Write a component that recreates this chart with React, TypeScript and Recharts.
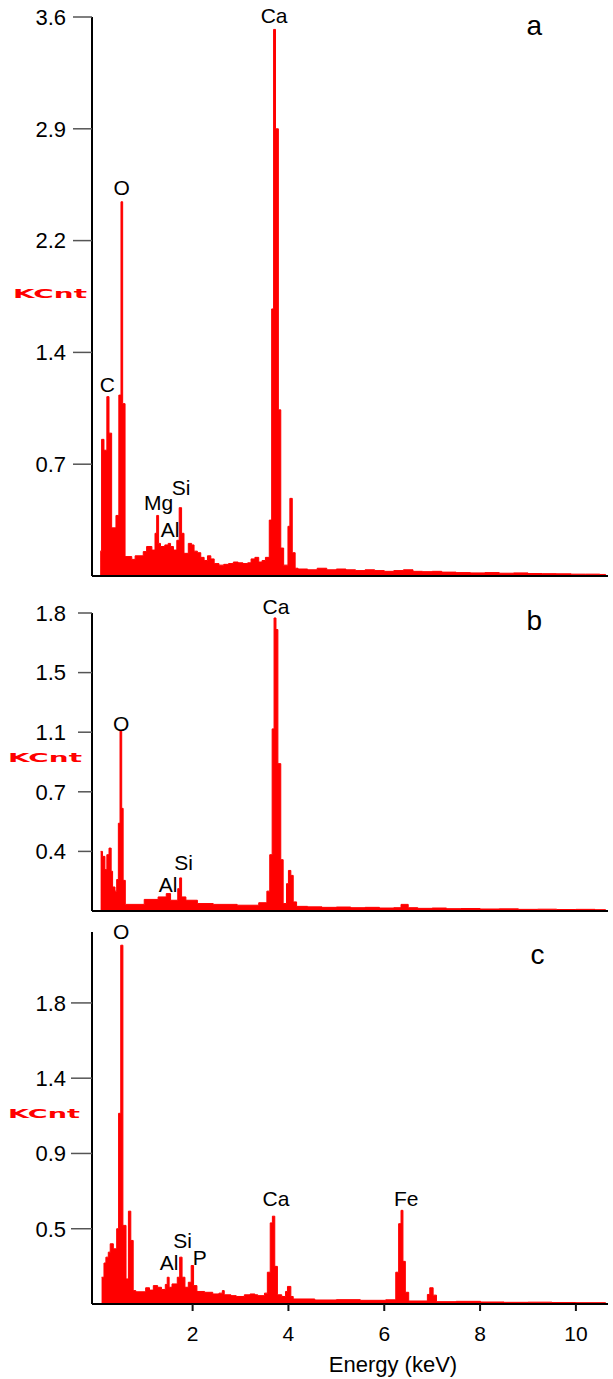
import React from 'react';
import { AreaChart, Area, XAxis, YAxis, ReferenceDot } from 'recharts';

const FONT = "Arial, 'Liberation Sans', Helvetica, sans-serif";

// Energy axis ticks (keV)
const energyTicks = [2, 4, 6, 8, 10];

// Panel a spectrum (energy keV, counts KCnt)
const aEnergy = [0.07, 0.10, 0.15, 0.21, 0.255, 0.31, 0.40, 0.46, 0.505, 0.54,
  0.59, 0.73, 0.80, 0.97, 1.04, 1.15, 1.215, 1.25, 1.29, 1.33,
  1.42, 1.49, 1.54, 1.60, 1.67, 1.72, 1.77, 1.82, 1.91, 1.98,
  2.03, 2.10, 2.17, 2.24, 2.31, 2.38, 2.45, 2.55, 2.65, 2.75,
  2.85, 2.95, 3.05, 3.15, 3.22, 3.30, 3.38, 3.45, 3.52, 3.60,
  3.65, 3.69, 3.73, 3.79, 3.84, 3.90, 3.99, 4.03, 4.08, 4.14,
  4.2, 4.4, 4.6, 4.8, 5.0, 5.2, 5.4, 5.6, 5.8, 6.0,
  6.2, 6.4, 6.6, 6.8, 7.0, 7.2, 7.5, 7.8, 8.1, 8.4,
  8.7, 9.0, 9.3, 9.6, 9.9, 10.2, 10.5, 10.62];
const aCounts = [0.16, 0.88, 0.81, 1.155, 0.92, 0.31, 0.39, 1.165, 2.41, 1.11,
  0.125, 0.107, 0.13, 0.157, 0.19, 0.167, 0.275, 0.39, 0.21, 0.19,
  0.20, 0.21, 0.19, 0.167, 0.23, 0.44, 0.275, 0.146, 0.21, 0.20,
  0.16, 0.15, 0.12, 0.10, 0.13, 0.11, 0.08, 0.07, 0.075, 0.08,
  0.09, 0.085, 0.08, 0.085, 0.11, 0.12, 0.09, 0.10, 0.12, 0.36,
  1.72, 3.52, 2.88, 1.07, 0.18, 0.07, 0.32, 0.50, 0.15, 0.05,
  0.045, 0.04, 0.05, 0.04, 0.045, 0.04, 0.035, 0.04, 0.035, 0.03,
  0.035, 0.04, 0.03, 0.028, 0.03, 0.025, 0.022, 0.02, 0.022, 0.018,
  0.02, 0.016, 0.015, 0.014, 0.012, 0.012, 0.01, 0];

// Panel b spectrum
const bEnergy = [0.08, 0.12, 0.17, 0.21, 0.255, 0.30, 0.33, 0.38, 0.415, 0.45,
  0.485, 0.52, 0.55, 0.595, 0.99, 1.28, 1.45, 1.54, 1.69, 1.73,
  1.77, 1.86, 2.10, 2.43, 2.93, 3.38, 3.55, 3.61, 3.66, 3.70,
  3.74, 3.78, 3.84, 3.89, 3.96, 4.00, 4.05, 4.10, 4.17, 4.4,
  4.7, 5.0, 5.3, 5.6, 5.9, 6.2, 6.35, 6.5, 6.7, 7.0,
  7.3, 7.6, 8.0, 8.4, 8.8, 9.2, 9.6, 10.0, 10.4, 10.62];
const bCounts = [0.36, 0.33, 0.25, 0.34, 0.38, 0.24, 0.145, 0.12, 0.19, 0.53,
  1.09, 0.62, 0.185, 0.04, 0.07, 0.085, 0.105, 0.065, 0.135, 0.20,
  0.085, 0.065, 0.045, 0.04, 0.035, 0.05, 0.12, 0.34, 1.10, 1.77,
  1.70, 0.89, 0.31, 0.045, 0.165, 0.245, 0.215, 0.055, 0.028, 0.025,
  0.022, 0.024, 0.02, 0.022, 0.018, 0.02, 0.04, 0.02, 0.016, 0.018,
  0.014, 0.015, 0.012, 0.013, 0.01, 0.011, 0.009, 0.01, 0.008, 0];

// Panel c spectrum
const cEnergy = [0.10, 0.15, 0.19, 0.24, 0.28, 0.345, 0.415, 0.455, 0.50, 0.545,
  0.61, 0.66, 0.71, 0.76, 0.815, 1.02, 1.10, 1.18, 1.27, 1.35,
  1.43, 1.47, 1.51, 1.57, 1.68, 1.73, 1.78, 1.84, 1.91, 1.97,
  2.02, 2.09, 2.25, 2.42, 2.55, 2.62, 2.66, 2.80, 2.91, 3.08,
  3.20, 3.30, 3.36, 3.50, 3.56, 3.62, 3.665, 3.715, 3.77, 3.86,
  3.94, 3.98, 4.05, 4.10, 4.55, 5.0, 5.5, 6.03, 6.24, 6.30,
  6.35, 6.39, 6.44, 6.51, 6.90, 6.95, 7.02, 7.09, 7.5, 8.01,
  8.5, 9.0, 9.5, 10.0, 10.62];
const cCounts = [0.16, 0.245, 0.28, 0.31, 0.36, 0.33, 0.45, 1.14, 2.145, 0.47,
  0.15, 0.555, 0.38, 0.08, 0.073, 0.097, 0.083, 0.11, 0.10, 0.087,
  0.117, 0.16, 0.10, 0.12, 0.16, 0.28, 0.16, 0.10, 0.13, 0.23,
  0.11, 0.075, 0.07, 0.06, 0.065, 0.08, 0.055, 0.05, 0.045, 0.055,
  0.06, 0.055, 0.05, 0.065, 0.19, 0.485, 0.525, 0.225, 0.055, 0.045,
  0.075, 0.105, 0.045, 0.03, 0.024, 0.026, 0.022, 0.025, 0.19, 0.48,
  0.56, 0.255, 0.07, 0.018, 0.057, 0.097, 0.053, 0.014, 0.016, 0.012,
  0.01, 0.011, 0.009, 0.008, 0];

// Y axis ticks and labels
const aTickValues = [0.72, 1.44, 2.16, 2.88, 3.6];
const aTickLabels = ['0.7', '1.4', '2.2', '2.9', '3.6'];
const bTickValues = [0.36, 0.72, 1.08, 1.44, 1.8];
const bTickLabels = ['0.4', '0.7', '1.1', '1.5', '1.8'];
const cTickValues = [0.45, 0.9, 1.35, 1.8];
const cTickLabels = ['0.5', '0.9', '1.4', '1.8'];

// Peak annotations: name, energy, height of label centre
const aPeakNames = ['C', 'O', 'Ca', 'Mg', 'Al', 'Si'];
const aPeakEnergy = [0.22, 0.52, 3.70, 1.29, 1.53, 1.76];
const aPeakLevel = [1.234, 2.50, 3.61, 0.47, 0.30, 0.57];
const bPeakNames = ['O', 'Ca', 'Al', 'Si'];
const bPeakEnergy = [0.51, 3.74, 1.49, 1.81];
const bPeakLevel = [1.13, 1.84, 0.157, 0.29];
const cPeakNames = ['O', 'Ca', 'Fe', 'Al', 'Si', 'P'];
const cPeakEnergy = [0.51, 3.74, 6.46, 1.51, 1.79, 2.15];
const cPeakLevel = [2.224, 0.628, 0.632, 0.25, 0.38, 0.28];

// Panel letters
const panelLetters = ['a', 'b', 'c'];
const letterEnergy = [9.13, 9.13, 9.2];
const letterLevel = [3.545, 1.76, 2.095];

const zip = (es: number[], vs: number[]) => es.map((e, i) => ({ e, v: vs[i] }));

type PanelProps = {
  top: number;
  height: number;
  marginTop: number;
  xAxisHeight: number;
  data: { e: number; v: number }[];
  yMax: number;
  yTicks: number[];
  yLabels: string[];
  tickSize: number;
  tickMargin: number;
  names: string[];
  energies: number[];
  levels: number[];
  letter: string;
  letterE: number;
  letterV: number;
  kcntX: number;
  kcntY: number;
  kcntLen: number;
  showX: boolean;
};

function Panel(p: PanelProps) {
  const kcnt = () => (
    <text
      x={p.kcntX}
      y={p.kcntY}
      textAnchor="middle"
      dominantBaseline="central"
      fill="#ff0000"
      fontSize={13}
      fontWeight="bold"
      fontFamily="'DejaVu Sans', Verdana, sans-serif"
      textLength={p.kcntLen}
      lengthAdjust="spacingAndGlyphs"
    >
      KCnt
    </text>
  );
  const energyLabel = () => (
    <text x={393} y={462} textAnchor="middle" fill="#000" fontSize={22} fontFamily={FONT}>
      Energy (keV)
    </text>
  );
  return (
    <div style={{ position: 'absolute', left: 0, top: p.top }}>
      <AreaChart
        width={613}
        height={p.height}
        data={p.data}
        margin={{ top: p.marginTop, right: 5, bottom: 0, left: 0 }}
      >
        <XAxis
          dataKey="e"
          type="number"
          domain={[-0.1, 10.67]}
          allowDataOverflow
          ticks={energyTicks}
          height={p.xAxisHeight}
          axisLine={{ stroke: '#000', strokeWidth: 2 }}
          tickLine={{ stroke: '#111', strokeWidth: 2 }}
          tickSize={7}
          tickMargin={15}
          tick={p.showX ? { fill: '#000', fontSize: 21, fontFamily: FONT } : false}
          label={p.showX ? { content: energyLabel } : undefined}
        />
        <YAxis
          type="number"
          domain={[0, p.yMax]}
          allowDataOverflow
          ticks={p.yTicks}
          width={92}
          axisLine={{ stroke: '#000', strokeWidth: 2 }}
          tickLine={{ stroke: '#555', strokeWidth: 1.5 }}
          tickSize={p.tickSize}
          tickMargin={p.tickMargin}
          tick={{ fill: '#000', fontSize: 22, fontFamily: FONT }}
          tickFormatter={(v: number) => {
            let best = 0;
            p.yTicks.forEach((t, i) => {
              if (Math.abs(t - v) < Math.abs(p.yTicks[best] - v)) best = i;
            });
            return p.yLabels[best];
          }}
          label={{ content: kcnt }}
        />
        <Area
          type="stepAfter"
          dataKey="v"
          stroke="#ff0000"
          strokeWidth={1}
          fill="#ff0000"
          fillOpacity={1}
          dot={false}
          activeDot={false}
          isAnimationActive={false}
        />
        {p.names.map((n, i) => (
          <ReferenceDot
            key={n + i}
            x={p.energies[i]}
            y={p.levels[i]}
            r={1}
            fill="none"
            stroke="none"
            ifOverflow="visible"
            label={{ value: n, position: 'center', fill: '#000', fontSize: 21, fontFamily: FONT }}
          />
        ))}
        <ReferenceDot
          x={p.letterE}
          y={p.letterV}
          r={1}
          fill="none"
          stroke="none"
          ifOverflow="visible"
          label={{ value: p.letter, position: 'center', fill: '#000', fontSize: 28, fontFamily: FONT }}
        />
      </AreaChart>
    </div>
  );
}

export default function App() {
  return (
    <div style={{ position: 'absolute', left: 0, top: 0, width: 613, height: 1379, background: '#fff' }}>
      <Panel
        top={0}
        height={586}
        marginTop={17}
        xAxisHeight={10}
        data={zip(aEnergy, aCounts)}
        yMax={3.6}
        yTicks={aTickValues}
        yLabels={aTickLabels}
        tickSize={19}
        tickMargin={7}
        names={aPeakNames}
        energies={aPeakEnergy}
        levels={aPeakLevel}
        letter={panelLetters[0]}
        letterE={letterEnergy[0]}
        letterV={letterLevel[0]}
        kcntX={50}
        kcntY={293}
        kcntLen={74}
        showX={false}
      />
      <Panel
        top={590}
        height={331}
        marginTop={23}
        xAxisHeight={10}
        data={zip(bEnergy, bCounts)}
        yMax={1.8}
        yTicks={bTickValues}
        yLabels={bTickLabels}
        tickSize={14}
        tickMargin={12}
        names={bPeakNames}
        energies={bPeakEnergy}
        levels={bPeakLevel}
        letter={panelLetters[1]}
        letterE={letterEnergy[1]}
        letterV={letterLevel[1]}
        kcntX={45}
        kcntY={167}
        kcntLen={74}
        showX={false}
      />
      <Panel
        top={910}
        height={469}
        marginTop={22}
        xAxisHeight={75}
        data={zip(cEnergy, cCounts)}
        yMax={2.224}
        yTicks={cTickValues}
        yLabels={cTickLabels}
        tickSize={21}
        tickMargin={5}
        names={cPeakNames}
        energies={cPeakEnergy}
        levels={cPeakLevel}
        letter={panelLetters[2]}
        letterE={letterEnergy[2]}
        letterV={letterLevel[2]}
        kcntX={44}
        kcntY={203}
        kcntLen={72}
        showX={true}
      />
    </div>
  );
}
